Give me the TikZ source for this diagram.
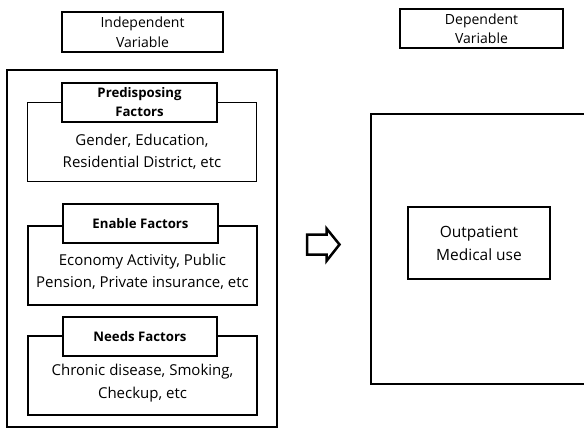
\documentclass[tikz,border=0pt]{standalone}
\usepackage{fontspec}
\setmainfont{Open Sans}

\begin{document}
\begin{tikzpicture}[x=1pt, y=-1pt]
    \tikzstyle{frame} = [draw, line width=1.6pt]
    \tikzstyle{title} = [frame, fill=white, align=center, inner sep=0pt, minimum height=39pt, font=\fontsize{14}{19.5}\selectfont]
    \tikzstyle{head} = [title, font=\bfseries\fontsize{13.2}{19}\selectfont]
    \tikzstyle{group} = [frame, minimum width=229pt, minimum height=79pt, inner sep=0pt]
    \tikzstyle{items} = [align=center, inner sep=0pt, font=\fontsize{15}{22.5}\selectfont]
    \useasboundingbox (0, 0) rectangle (584, 429);
    \clip (0, 0) rectangle (584, 429);
    % independent variable side
    \node[title, minimum width=161pt, minimum height=40pt] (indep) at (142.5, 32) {Independent\\Variable};
    \node[frame, minimum width=270pt, minimum height=357pt] (left) at (142, 248.5) {};
    \node[group] (pre) at (142, 142) {};
    \node[head, minimum width=155pt] (pre-head) at (139.5, 102.5) {Predisposing\\Factors};
    \node[items] (pre-text) at (142, 152) {Gender, Education,\\Residential District, etc};
    \node[group] (ena) at (142.5, 265.5) {};
    \node[head, minimum width=155pt] (ena-head) at (140.5, 223.5) {Enable Factors};
    \node[items] (ena-text) at (142.5, 272) {Economy Activity, Public\\Pension, Private insurance, etc};
    \node[group] (need) at (142.5, 375.5) {};
    \node[head, minimum width=154pt] (need-head) at (140, 336.5) {Needs Factors};
    \node[items] (need-text) at (142.5, 383) {Chronic disease, Smoking,\\Checkup, etc};
    % hollow arrow between the sides
    \coordinate (cause) at (307, 234.5);
    \draw[line width=2.5pt, miter limit=4] (cause) -- ++(19.5, 0) -- ++(0, -6) -- ++(13, 16)
        -- ++(-13, 16.5) -- ++(0, -6.5) -- ++(-19.5, 0) -- cycle;
    % dependent variable side
    \node[title, minimum width=163pt] (dep) at (481.5, 28.5) {Dependent\\Variable};
    \node[frame, minimum width=229pt, minimum height=270pt] (right) at (485.5, 249) {};
    \node[frame, align=center, minimum width=142pt, minimum height=72pt, font=\fontsize{15.5}{23}\selectfont] (use) at (479, 243) {Outpatient\\Medical use};
\end{tikzpicture}
\end{document}
